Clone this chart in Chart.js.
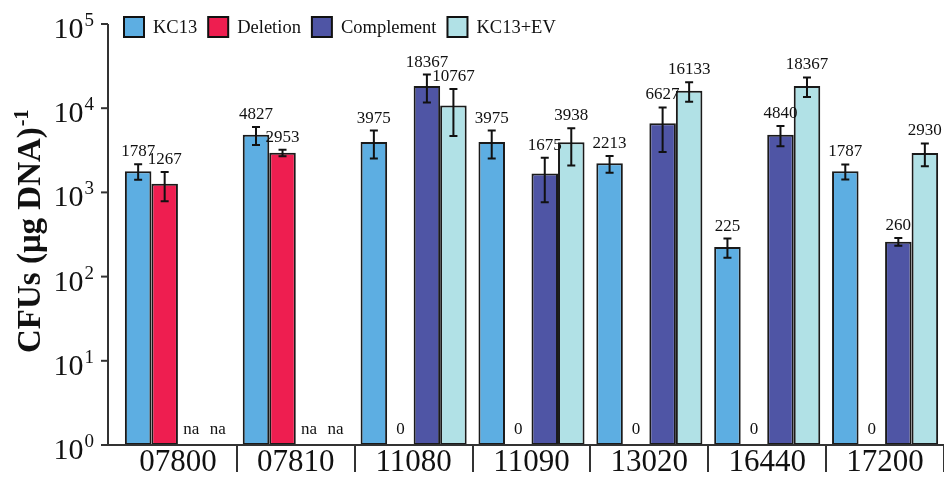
<!DOCTYPE html>
<html>
<head>
<meta charset="utf-8">
<script src="https://cdn.jsdelivr.net/npm/chart.js@4"></script>
<style>
  html, body { margin: 0; padding: 0; background: #fff; }
  #wrap { width: 944px; height: 477px; position: relative; }
</style>
</head>
<body>
<div id="wrap"><canvas id="chart"></canvas></div>
<script>
const categories = ['07800', '07810', '11080', '11090', '13020', '16440', '17200'];

// null = na (not done), 0 = no colonies
const kc13 = [1787, 4827, 3975, 3975, 2213, 225, 1787];
const kc13Err = [370, 1160, 1450, 1450, 500, 58, 360];
const deletion = [1267, 2953, 0, 0, 0, 0, 0];
const deletionErr = [480, 260, 0, 0, 0, 0, 0];
const complement = [null, null, 18367, 1675, 6627, 4840, 260];
const complementErr = [0, 0, 6700, 910, 3600, 1300, 27];
const kc13ev = [null, null, 10767, 3938, 16133, 18367, 2930];
const kc13evErr = [0, 0, 6100, 1850, 4200, 4800, 880];

const yTickPowers = [0, 1, 2, 3, 4, 5];

const SERIF = '"Liberation Serif", "Times New Roman", serif';
const AXIS_X = 108;

const errorBarsAndLabels = {
    id: 'errorBarsAndLabels',
    afterDatasetsDraw(chart) {
        const { ctx } = chart;
        const y = chart.scales.y;
        const bottom = chart.chartArea.bottom;
        ctx.save();
        chart.data.datasets.forEach((ds, di) => {
            const meta = chart.getDatasetMeta(di);
            meta.data.forEach((bar, i) => {
                const v = ds.data[i];
                const e = ds.errors[i] || 0;
                const x = bar.x;
                let top = bottom;
                let low = bottom;
                if (v) {
                    top = y.getPixelForValue(v + e);
                    low = v - e > 0 ? y.getPixelForValue(v - e) : bottom;
                }
                ctx.strokeStyle = '#111';
                ctx.lineWidth = 2;
                ctx.beginPath();
                if (top !== low) {
                    ctx.moveTo(x, top);
                    ctx.lineTo(x, low);
                }
                ctx.moveTo(x - 4, top);
                ctx.lineTo(x + 4, top);
                ctx.moveTo(x - 4, low);
                ctx.lineTo(x + 4, low);
                ctx.stroke();

                ctx.fillStyle = '#111';
                ctx.font = '17px ' + SERIF;
                ctx.textAlign = 'center';
                ctx.textBaseline = 'alphabetic';
                const text = v === null ? 'na' : String(v);
                ctx.fillText(text, x, top - (v ? 8 : 11));
            });
        });
        ctx.restore();
    }
};

const axesAndLegend = {
    id: 'axesAndLegend',
    afterDraw(chart) {
        const { ctx, chartArea } = chart;
        const y = chart.scales.y;
        ctx.save();
        ctx.strokeStyle = '#333';
        ctx.lineWidth = 2;
        // axis lines
        ctx.beginPath();
        ctx.moveTo(AXIS_X, chartArea.top);
        ctx.lineTo(AXIS_X, chartArea.bottom);
        ctx.lineTo(chartArea.right, chartArea.bottom);
        ctx.stroke();

        // y ticks + 10^n labels
        yTickPowers.forEach((p) => {
            const py = y.getPixelForValue(Math.pow(10, p));
            ctx.beginPath();
            ctx.moveTo(AXIS_X - 7, py);
            ctx.lineTo(AXIS_X, py);
            ctx.stroke();
            ctx.fillStyle = '#111';
            ctx.textBaseline = 'alphabetic';
            ctx.textAlign = 'left';
            ctx.font = '19px ' + SERIF;
            const sup = String(p);
            const sw = ctx.measureText(sup).width;
            ctx.font = '30px ' + SERIF;
            const bw = ctx.measureText('10').width;
            const right = AXIS_X - 14;
            ctx.fillText('10', right - sw - bw - 1, py + 14);
            ctx.font = '19px ' + SERIF;
            ctx.fillText(sup, right - sw, py + 2);
        });

        // y title
        ctx.save();
        ctx.translate(40, 353);
        ctx.rotate(-Math.PI / 2);
        ctx.fillStyle = '#111';
        ctx.textAlign = 'left';
        ctx.textBaseline = 'alphabetic';
        ctx.font = 'bold 33px ' + SERIF;
        const title = 'CFUs (\u03bcg DNA)';
        ctx.fillText(title, 0, 0);
        const tw = ctx.measureText(title).width;
        ctx.font = 'bold 20px ' + SERIF;
        ctx.fillText('-1', tw + 1, -12);
        ctx.restore();

        // legend
        let lx = 124;
        const ly = 17;
        ctx.font = '18.5px ' + SERIF;
        ctx.textBaseline = 'middle';
        ctx.textAlign = 'left';
        chart.data.datasets.forEach((ds) => {
            ctx.fillStyle = ds.backgroundColor;
            ctx.fillRect(lx, ly, 20, 20);
            ctx.strokeStyle = '#111';
            ctx.lineWidth = 2;
            ctx.strokeRect(lx, ly, 20, 20);
            ctx.fillStyle = '#111';
            ctx.fillText(ds.label, lx + 29, ly + 11);
            lx += 29 + ctx.measureText(ds.label).width + 11;
        });
        ctx.restore();
    }
};

const makeSet = (label, data, errors, color) => ({
    label,
    data,
    errors,
    backgroundColor: color,
    borderColor: '#1a1a1a',
    borderWidth: 2,
    borderSkipped: false
});

new Chart(document.getElementById('chart'), {
    type: 'bar',
    data: {
        labels: categories,
        datasets: [
            makeSet('KC13', kc13, kc13Err, '#5DAEE2'),
            makeSet('Deletion', deletion, deletionErr, '#EE1E50'),
            makeSet('Complement', complement, complementErr, '#4F55A5'),
            makeSet('KC13+EV', kc13ev, kc13evErr, '#B1E1E6')
        ]
    },
    options: {
        responsive: true,
        maintainAspectRatio: false,
        animation: false,
        layout: {
            padding: { left: 119, top: 24, right: 0, bottom: 0 }
        },
        datasets: {
            bar: {
                categoryPercentage: 0.9,
                barPercentage: 1.0
            }
        },
        plugins: {
            legend: { display: false },
            tooltip: { enabled: false }
        },
        scales: {
            x: {
                border: { display: false },
                grid: {
                    drawOnChartArea: false,
                    tickLength: 27,
                    lineWidth: 2,
                    color: (ctx) => (ctx.index === 0 || ctx.index === categories.length) ? 'rgba(0,0,0,0)' : '#333'
                },
                ticks: {
                    padding: -28,
                    color: '#111',
                    maxRotation: 0,
                    font: { family: SERIF, size: 31 }
                },
                afterFit: (scale) => { scale.height = 32; }
            },
            y: {
                type: 'logarithmic',
                display: false,
                min: 1,
                max: 100000
            }
        }
    },
    plugins: [errorBarsAndLabels, axesAndLegend]
});
</script>
</body>
</html>
